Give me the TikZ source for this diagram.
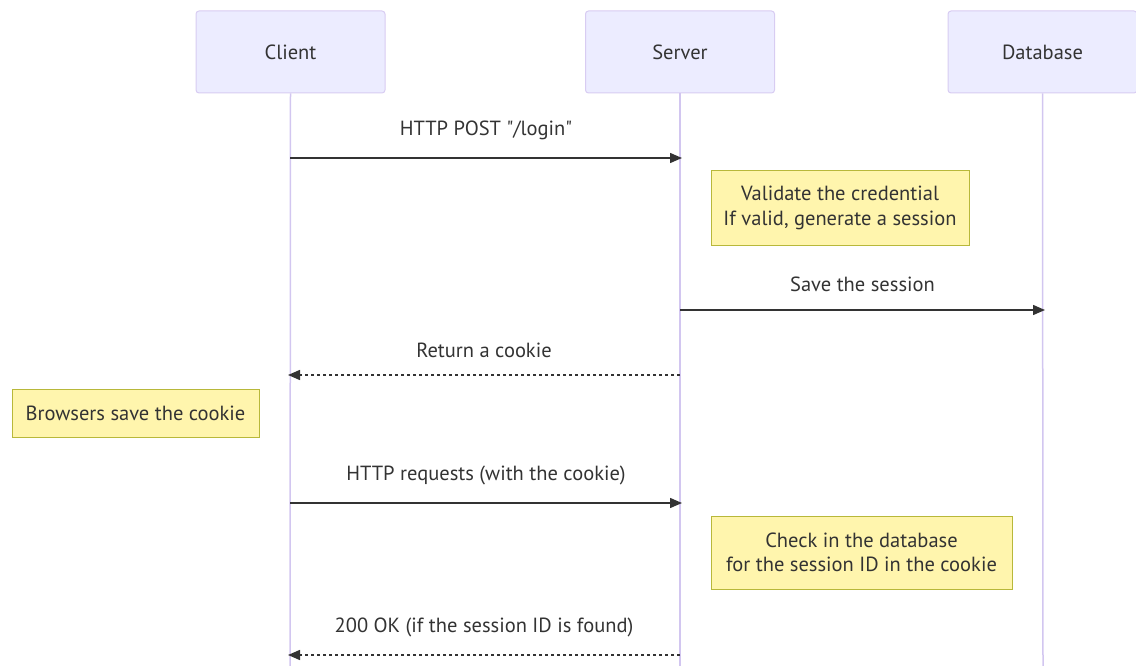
\documentclass[tikz,border=0pt]{standalone}
\usepackage{fontspec}
\setmainfont{PT Sans}[Ligatures=TeXOff]
\usetikzlibrary{arrows.meta}
\definecolor{actfill}{HTML}{ECECFF}
\definecolor{actline}{HTML}{D8CCF2}
\definecolor{lifeline}{HTML}{D2C6F0}
\definecolor{notefill}{HTML}{FFF5AD}
\definecolor{noteline}{HTML}{B8B83A}
\definecolor{ink}{HTML}{333333}
\tikzset{
  actor/.style={draw=actline, fill=actfill, line width=1pt, rounded corners=3pt,
    minimum width=189pt, minimum height=82pt, inner sep=0pt,
    font=\fontsize{20.5}{24}\selectfont, text=ink},
  note/.style={draw=noteline, fill=notefill, line width=1pt, inner sep=0pt,
    font=\fontsize{20.5}{24.5}\selectfont, text=ink, align=center},
  lbl/.style={font=\fontsize{20.5}{24}\selectfont, text=ink},
  life/.style={draw=lifeline, line width=1.5pt},
  msg/.style={draw=ink, line width=1.5pt, -{Triangle[length=12pt,width=10pt]}},
  reply/.style={msg, dash pattern=on 3pt off 3pt},
}
\begin{document}
\begin{tikzpicture}[x=1pt,y=-1pt]
\useasboundingbox (0,0) rectangle (1136,666);
% participants
\node[actor] (client) at (290.5,52) {Client};
\node[actor] (server) at (680,52) {Server};
\node[actor] (db) at (1042.5,52) {Database};
% lifelines
\coordinate (cEnd) at (290,666);
\coordinate (sEnd) at (680,666);
\coordinate (dEnd) at (1043,666);
\draw[life] (client.south) -- (cEnd);
\draw[life] (server.south) -- (sEnd);
\draw[life] (db.south) -- (dEnd);
% message rows
\coordinate (c1) at (290,158); \coordinate (s1) at (682,158);
\coordinate (s2) at (680,310); \coordinate (d2) at (1045,310);
\coordinate (s3) at (680,375); \coordinate (c3) at (288,375);
\coordinate (c4) at (290,503); \coordinate (s4) at (682,503);
\coordinate (s5) at (680,655); \coordinate (c5) at (288,655);
% messages
\draw[msg] (c1) -- node[lbl, above=14pt] {HTTP POST "/login"} (s1);
\node[note, minimum width=258pt, minimum height=74pt] (n1) at (840,208)
  {Validate the credential\\If valid, generate a session};
\draw[msg] (s2) -- node[lbl, above=14pt] {Save the session} (d2);
\draw[reply] (s3) -- node[lbl, above=13pt] {Return a cookie} (c3);
\node[note, minimum width=247pt, minimum height=48pt] (n2) at (135.5,413)
  {Browsers save the cookie};
\draw[msg] (c4) -- node[lbl, above=14pt] {HTTP requests (with the cookie)} (s4);
\node[note, minimum width=301pt, minimum height=73pt] (n3) at (861.5,552.5)
  {Check in the database\\for the session ID in the cookie};
\draw[reply] (s5) -- node[lbl, above=14pt] {200 OK (if the session ID is found)} (c5);
\end{tikzpicture}
\end{document}
